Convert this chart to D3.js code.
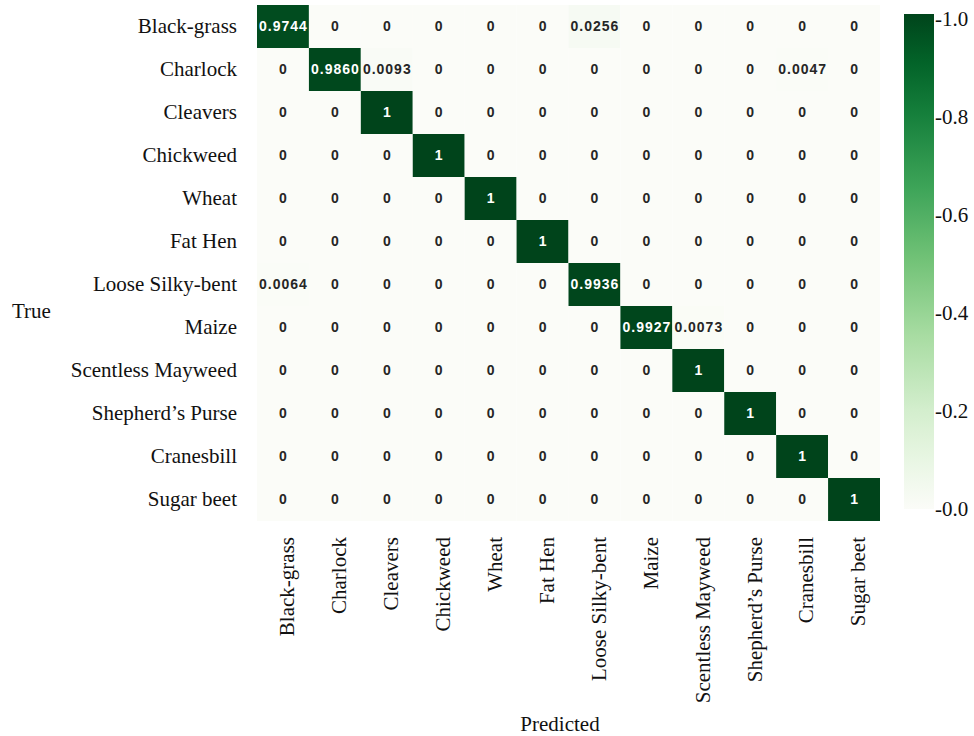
<!DOCTYPE html>
<html>
<head>
<meta charset="utf-8">
<script src="https://cdn.jsdelivr.net/npm/d3@7"></script>
<style>
  html, body { margin: 0; padding: 0; background: #ffffff; }
  svg { display: block; }
</style>
</head>
<body>
<svg id="chart" width="974" height="736"></svg>
<script>
// Class names (same order on both axes)
const classes = [
  "Black-grass", "Charlock", "Cleavers", "Chickweed", "Wheat", "Fat Hen",
  "Loose Silky-bent", "Maize", "Scentless Mayweed", "Shepherd’s Purse",
  "Cranesbill", "Sugar beet"
];

// Normalised confusion matrix, one row per true class
const matrix = [
  [0.9744, 0, 0, 0, 0, 0, 0.0256, 0, 0, 0, 0, 0],
  [0, 0.9860, 0.0093, 0, 0, 0, 0, 0, 0, 0, 0.0047, 0],
  [0, 0, 1, 0, 0, 0, 0, 0, 0, 0, 0, 0],
  [0, 0, 0, 1, 0, 0, 0, 0, 0, 0, 0, 0],
  [0, 0, 0, 0, 1, 0, 0, 0, 0, 0, 0, 0],
  [0, 0, 0, 0, 0, 1, 0, 0, 0, 0, 0, 0],
  [0.0064, 0, 0, 0, 0, 0, 0.9936, 0, 0, 0, 0, 0],
  [0, 0, 0, 0, 0, 0, 0, 0.9927, 0.0073, 0, 0, 0],
  [0, 0, 0, 0, 0, 0, 0, 0, 1, 0, 0, 0],
  [0, 0, 0, 0, 0, 0, 0, 0, 0, 1, 0, 0],
  [0, 0, 0, 0, 0, 0, 0, 0, 0, 0, 1, 0],
  [0, 0, 0, 0, 0, 0, 0, 0, 0, 0, 0, 1]
];

// Colour bar ticks
const colorbarTicks = [0.0, 0.2, 0.4, 0.6, 0.8, 1.0];

const xTitle = "Predicted";
const yTitle = "True";

const svg = d3.select("#chart");
const serif = "'Liberation Serif', 'Times New Roman', serif";
const sans = "'Liberation Sans', Arial, sans-serif";

const grid = { left: 257, right: 880, top: 5, bottom: 521 };

const x = d3.scaleBand().domain(d3.range(classes.length))
  .range([grid.left, grid.right]).padding(0);
const y = d3.scaleBand().domain(d3.range(classes.length))
  .range([grid.top, grid.bottom]).padding(0);

// Greens ramp with a near-white low end
const greenStops = [0, 0.1, 0.2, 0.35, 0.5, 0.65, 0.8, 0.9, 1];
const color = d3.scaleLinear()
  .domain(greenStops)
  .range(greenStops.map(t => t === 0 ? "#fbfcf8" : d3.interpolateGreens(t)))
  .interpolate(d3.interpolateRgb)
  .clamp(true);

const cells = [];
matrix.forEach((row, r) => row.forEach((v, c) => cells.push({ r, c, v })));

const fmt = v => (v === 0 || v === 1) ? String(v) : v.toFixed(4);

// Heatmap cells
svg.append("g").selectAll("rect").data(cells).join("rect")
  .attr("x", d => x(d.c))
  .attr("y", d => y(d.r))
  .attr("width", x.bandwidth())
  .attr("height", y.bandwidth())
  .attr("fill", d => color(d.v));

// Cell annotations
svg.append("g").selectAll("text").data(cells).join("text")
  .attr("x", d => x(d.c) + x.bandwidth() / 2 + 0.5)
  .attr("y", d => y(d.r) + y.bandwidth() / 2)
  .attr("dy", "0.35em")
  .attr("text-anchor", "middle")
  .style("font-family", sans)
  .style("font-weight", "bold")
  .style("font-size", "14px")
  .style("letter-spacing", "1px")
  .attr("fill", d => d.v > 0.5 ? "#ffffff" : "#262626")
  .text(d => fmt(d.v));

// Row labels (true class)
svg.append("g").selectAll("text").data(classes).join("text")
  .attr("x", 237)
  .attr("y", (d, i) => y(i) + y.bandwidth() / 2)
  .attr("dy", "0.3em")
  .attr("text-anchor", "end")
  .style("font-family", serif)
  .style("font-size", "21px")
  .attr("fill", "#111")
  .text(d => d);

// Column labels (predicted class), rotated
svg.append("g").selectAll("text").data(classes).join("text")
  .attr("transform", (d, i) => `translate(${x(i) + x.bandwidth() / 2 + 5},537) rotate(-90)`)
  .attr("dy", "0.3em")
  .attr("text-anchor", "end")
  .style("font-family", serif)
  .style("font-size", "21px")
  .attr("fill", "#111")
  .text(d => d);

// Axis titles
svg.append("text")
  .attr("x", 560).attr("y", 731)
  .attr("text-anchor", "middle")
  .style("font-family", serif).style("font-size", "21px")
  .attr("fill", "#111")
  .text(xTitle);

svg.append("text")
  .attr("x", 12).attr("y", 318)
  .style("font-family", serif).style("font-size", "21px")
  .attr("fill", "#111")
  .text(yTitle);

// Colour bar
const cb = { x: 904, w: 30, top: 14, bottom: 509 };
const cbScale = d3.scaleLinear().domain([0, 1]).range([509, 19]);

const defs = svg.append("defs");
const grad = defs.append("linearGradient")
  .attr("id", "cbGrad")
  .attr("x1", "0").attr("y1", "1").attr("x2", "0").attr("y2", "0");
d3.range(0, 1.0001, 0.05).forEach(t => {
  grad.append("stop")
    .attr("offset", `${t * 100}%`)
    .attr("stop-color", color(t));
});

svg.append("rect")
  .attr("x", cb.x).attr("y", cb.top)
  .attr("width", cb.w).attr("height", cb.bottom - cb.top)
  .attr("fill", "url(#cbGrad)");

svg.append("g").selectAll("text").data(colorbarTicks).join("text")
  .attr("x", cb.x + cb.w + 1)
  .attr("y", d => cbScale(d))
  .attr("dy", "0.32em")
  .style("font-family", serif)
  .style("font-size", "21px")
  .attr("fill", "#111")
  .text(d => "-" + d.toFixed(1));
</script>
</body>
</html>
